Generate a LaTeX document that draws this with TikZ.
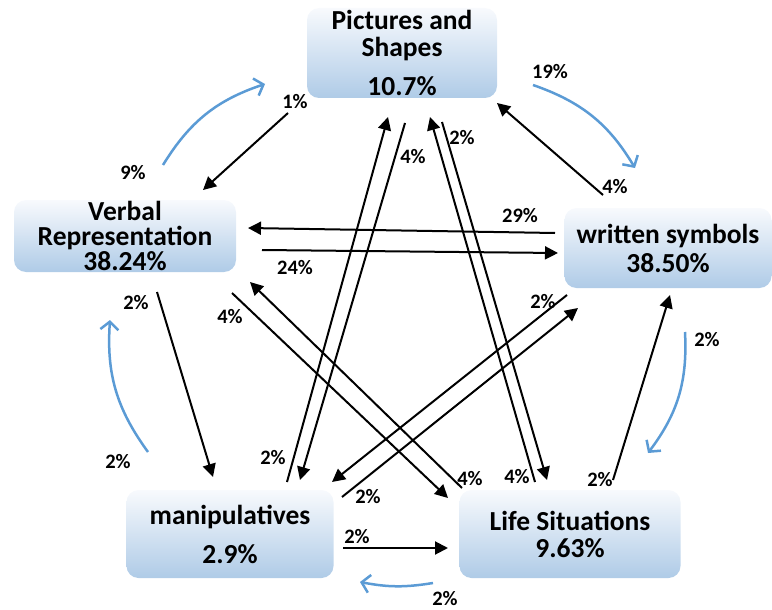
\documentclass[tikz,border=0pt]{standalone}
\usepackage{fontspec}
\setmainfont{Carlito}
\usetikzlibrary{arrows.meta,calc}
\definecolor{boxtop}{HTML}{F8FAFD}
\definecolor{boxbottom}{HTML}{AFCBE7}
\definecolor{flowblue}{HTML}{5B9BD5}

\begin{document}
\begin{tikzpicture}[x=1pt, y=-1pt,
		rep/.style={rounded corners=12pt, top color=boxtop, bottom color=boxbottom, align=center, inner sep=0pt, font=\fontsize{27.5}{27}\selectfont\bfseries},
		pct/.style={inner sep=0pt, text=black, font=\fontsize{20.5}{22}\selectfont\bfseries},
		link/.style={line width=2pt, -{Triangle[length=13pt,width=13pt]}},
		back/.style={line width=2.5pt, flowblue, -{Straight Barb[length=8pt,width=18pt]}, bend left=20}]
		\useasboundingbox (0,0) rectangle (772,610);
		\node[rep, minimum width=190pt, minimum height=90pt] (Pictures) at (402,53) {
			Pictures and\\Shapes\\[12pt]10.7\%
		};
		\node[rep, minimum width=222pt, minimum height=72pt, font=\fontsize{27.5}{25}\selectfont\bfseries] (Verbal) at (125,236) {
			Verbal\\Representation\\38.24\%
		};
		\node[rep, minimum width=207pt, minimum height=80pt] (Written) at (668,248) {
			written symbols\\[2pt]38.50\%
		};
		\node[rep, minimum width=207pt, minimum height=88pt] (Manipulatives) at (230,534) {
			manipulatives\\[12pt]2.9\%
		};
		\node[rep, minimum width=221pt, minimum height=88pt] (Life) at (570,534) {
			Life Situations\\9.63\%
		};
		% Pictures and Verbal
		\draw[link] ($(Pictures)+(-114,60)$) -- node[pct, at start, shift={(7,-11)}] (lblPV) {1\%} ($(Verbal)+(78,-46)$);
		\draw[back] ($(Verbal)+(38,-71)$) to node[pct, at start, shift={(-30,8)}] (lblVP) {9\%} ($(Pictures)+(-137,31)$);
		% Pictures and Written
		\draw[link] ($(Written)+(-65,-53)$) -- node[pct, at start, shift={(12,-8)}] (lblWP) {4\%} ($(Pictures)+(95,50)$);
		\draw[back] ($(Pictures)+(131,32)$) to node[pct, at start, shift={(17,-13)}] (lblPW) {19\%} ($(Written)+(-33,-80)$);
		% Verbal and Written
		\draw[link] ($(Written)+(-113,-15)$) -- node[pct, at start, shift={(-35,-17)}] (lblWV) {29\%} ($(Verbal)+(123,-8)$);
		\draw[link] ($(Verbal)+(137,14)$) -- node[pct, at start, shift={(33,18)}] (lblVW) {24\%} ($(Written)+(-110,5)$);
		% Pictures and Manipulatives
		\draw[link] ($(Manipulatives)+(57,-52)$) -- node[pct, at start, shift={(-14,-24)}] (lblMP) {2\%} ($(Pictures)+(-14,64)$);
		\draw[link] ($(Pictures)+(3,70)$) -- node[pct, at start, shift={(8,34)}] (lblPM) {4\%} ($(Manipulatives)+(70,-54)$);
		% Pictures and Life
		\draw[link] ($(Life)+(-35,-52)$) -- node[pct, at start, shift={(-18,-5)}] (lblLP) {4\%} ($(Pictures)+(28,64)$);
		\draw[link] ($(Pictures)+(40,69)$) -- node[pct, at start, shift={(20,16)}] (lblPL) {2\%} ($(Life)+(-23,-54)$);
		% Verbal and Life
		\draw[link] ($(Verbal)+(107,57)$) -- node[pct, at start, shift={(-2,24)}] (lblVL) {4\%} ($(Life)+(-122,-36)$);
		\draw[link] ($(Life)+(-108,-46)$) -- node[pct, at start, shift={(8,-9)}] (lblLV) {4\%} ($(Verbal)+(125,46)$);
		% Written and Manipulatives
		\draw[link] ($(Written)+(-101,47)$) -- node[pct, at start, shift={(-24,7)}] (lblWM) {2\%} ($(Manipulatives)+(102,-52)$);
		\draw[link] ($(Manipulatives)+(112,-37)$) -- node[pct, at start, shift={(26,0)}] (lblMW) {2\%} ($(Written)+(-90,60)$);
		% Verbal and Manipulatives
		\draw[link] ($(Verbal)+(32,56)$) -- node[pct, at start, shift={(-21,11)}] (lblVM) {2\%} ($(Manipulatives)+(-17,-57)$);
		\draw[back] ($(Manipulatives)+(-82,-82)$) to node[pct, at start, shift={(-30,10)}] (lblMV) {2\%} ($(Verbal)+(-15,84)$);
		% Written and Life
		\draw[link] ($(Life)+(43,-54)$) -- node[pct, at start, shift={(-13,0)}] (lblLW) {2\%} ($(Written)+(2,47)$);
		\draw[back] ($(Written)+(17,84)$) to node[pct, at start, shift={(22,8)}] (lblWL) {2\%} ($(Life)+(78,-81)$);
		% Manipulatives and Life
		\draw[link] ($(Manipulatives)+(113,14)$) -- node[pct, at start, shift={(14,-11)}] (lblML) {2\%} ($(Life)+(-122,14)$);
		\draw[back, bend left=10] ($(Life)+(-137,49)$) to node[pct, at start, shift={(12,16)}] (lblLM) {2\%} ($(Manipulatives)+(130,48)$);
\end{tikzpicture}
\end{document}
